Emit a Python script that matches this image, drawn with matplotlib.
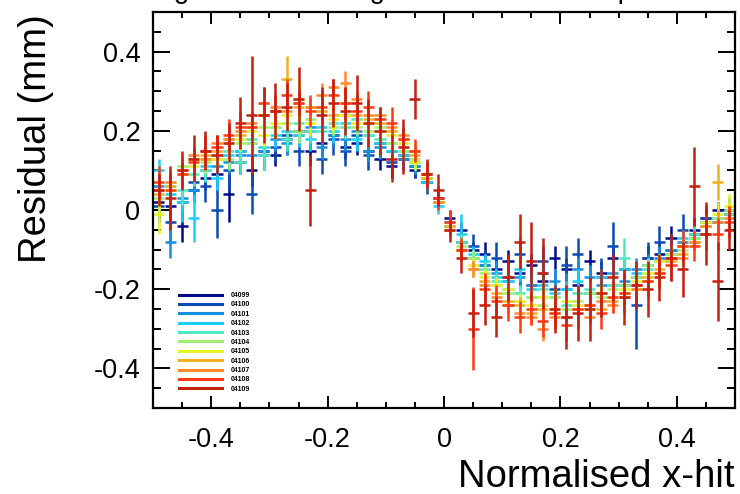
import numpy as np
import matplotlib
matplotlib.use('Agg')
import matplotlib.pyplot as plt
from matplotlib.lines import Line2D
from matplotlib.ticker import MultipleLocator

plt.rcParams['font.family'] = ['Liberation Sans', 'DejaVu Sans']

# bin centres of the normalised x-hit histogram (50 bins from -0.5 to 0.5)
xhit = np.arange(-0.49, 0.5, 0.02)
half_bin = 0.0095

runs = ['04099', '04100', '04101', '04102', '04103', '04104',
        '04105', '04106', '04107', '04108', '04109']
colours = ['#000a8c', '#0a4cb4', '#1890e0', '#18d0ff', '#50e8c0', '#a0f070',
           '#e4f420', '#f0b020', '#ff8a30', '#ff3a12', '#c4200e']

res_04099 = [0.02, 0.01, -0.04, 0.05, 0.08, 0.09, 0.04, 0.12, 0.10, 0.15, 0.14, 0.18, 0.20, 0.15, 0.17, 0.19, 0.16,
             0.17, 0.15, 0.13, 0.11, 0.13, 0.10, 0.07, 0.03, -0.02, -0.05, -0.10, -0.11, -0.15, -0.13, -0.16, -0.14,
             -0.18, -0.12, -0.15, -0.19, -0.13, -0.16, -0.12, -0.15, -0.17, -0.12, -0.11, -0.07, -0.09, -0.05, -0.02,
             0.00, -0.01]
err_04099 = [0.04, 0.03, 0.04, 0.03, 0.03, 0.03, 0.07, 0.03, 0.04, 0.03, 0.03, 0.03, 0.03, 0.04, 0.03, 0.03, 0.03,
             0.03, 0.03, 0.03, 0.03, 0.03, 0.02, 0.02, 0.02, 0.02, 0.02, 0.02, 0.03, 0.03, 0.03, 0.03, 0.03, 0.04,
             0.03, 0.03, 0.04, 0.03, 0.03, 0.03, 0.03, 0.04, 0.03, 0.03, 0.03, 0.03, 0.03, 0.02, 0.02, 0.02]

res_04100 = [0.01, -0.03, 0.02, 0.07, 0.06, 0.00, 0.10, 0.15, 0.04, 0.14, 0.16, 0.19, 0.15, 0.20, 0.13, 0.18, 0.15,
             0.19, 0.14, 0.17, 0.12, 0.14, 0.11, 0.07, 0.02, -0.04, -0.08, -0.09, -0.14, -0.12, -0.17, -0.11, -0.19,
             -0.13, -0.20, -0.14, -0.11, -0.21, -0.17, -0.09, -0.19, -0.24, -0.12, -0.08, -0.10, -0.05, -0.06, -0.02,
             -0.03, 0.00]
err_04100 = [0.04, 0.05, 0.04, 0.04, 0.04, 0.07, 0.05, 0.04, 0.05, 0.04, 0.04, 0.05, 0.04, 0.04, 0.04, 0.04, 0.04,
             0.04, 0.04, 0.04, 0.04, 0.03, 0.03, 0.03, 0.02, 0.02, 0.03, 0.03, 0.04, 0.04, 0.04, 0.04, 0.05, 0.04,
             0.05, 0.05, 0.04, 0.05, 0.05, 0.06, 0.05, 0.11, 0.04, 0.04, 0.04, 0.04, 0.04, 0.03, 0.03, 0.03]

res_04101 = [0.06, -0.08, 0.03, 0.05, 0.10, 0.11, 0.12, 0.14, 0.14, 0.15, 0.18, 0.17, 0.19, 0.21, 0.16, 0.19, 0.18,
             0.20, 0.15, 0.16, 0.15, 0.13, 0.11, 0.07, 0.02, -0.03, -0.08, -0.12, -0.14, -0.16, -0.18, -0.17, -0.19,
             -0.16, -0.18, -0.20, -0.15, -0.17, -0.19, -0.16, -0.18, -0.15, -0.14, -0.12, -0.10, -0.08, -0.06, -0.03,
             -0.02, 0.00]
err_04101 = [0.03, 0.04, 0.03, 0.03, 0.03, 0.04, 0.03, 0.03, 0.03, 0.03, 0.03, 0.03, 0.03, 0.03, 0.03, 0.03, 0.03,
             0.03, 0.03, 0.03, 0.03, 0.03, 0.02, 0.02, 0.02, 0.02, 0.02, 0.02, 0.03, 0.03, 0.03, 0.03, 0.03, 0.03,
             0.03, 0.04, 0.03, 0.03, 0.03, 0.03, 0.04, 0.03, 0.03, 0.03, 0.03, 0.03, 0.03, 0.02, 0.02, 0.03]

res_04102 = [0.10, 0.04, 0.02, -0.02, 0.11, 0.08, 0.14, 0.15, 0.17, 0.16, 0.19, 0.20, 0.19, 0.18, 0.21, 0.20, 0.22,
             0.18, 0.19, 0.17, 0.15, 0.14, 0.12, 0.07, 0.01, -0.04, -0.06, -0.11, -0.13, -0.17, -0.18, -0.15, -0.20,
             -0.19, -0.21, -0.20, -0.18, -0.21, -0.17, -0.19, -0.15, -0.16, -0.14, -0.13, -0.11, -0.07, -0.07, -0.04,
             -0.02, -0.01]
err_04102 = [0.03, 0.03, 0.05, 0.06, 0.03, 0.03, 0.03, 0.03, 0.03, 0.03, 0.03, 0.03, 0.03, 0.03, 0.03, 0.03, 0.03,
             0.03, 0.03, 0.02, 0.02, 0.02, 0.02, 0.02, 0.02, 0.02, 0.05, 0.02, 0.02, 0.02, 0.02, 0.03, 0.02, 0.02,
             0.02, 0.02, 0.03, 0.02, 0.02, 0.02, 0.03, 0.03, 0.02, 0.02, 0.02, 0.02, 0.02, 0.02, 0.02, 0.02]

res_04103 = [0.05, 0.06, 0.05, 0.09, 0.10, 0.13, 0.15, 0.12, 0.18, 0.14, 0.21, 0.18, 0.22, 0.20, 0.20, 0.22, 0.21,
             0.23, 0.19, 0.18, 0.17, 0.15, 0.12, 0.08, 0.02, -0.04, -0.08, -0.12, -0.15, -0.18, -0.20, -0.21, -0.22,
             -0.20, -0.22, -0.24, -0.21, -0.20, -0.21, -0.19, -0.12, -0.17, -0.15, -0.13, -0.11, -0.09, -0.06, -0.04,
             -0.02, -0.01]
err_04103 = [0.03, 0.03, 0.04, 0.03, 0.03, 0.03, 0.03, 0.03, 0.03, 0.04, 0.03, 0.03, 0.03, 0.03, 0.03, 0.03, 0.03,
             0.03, 0.03, 0.03, 0.03, 0.02, 0.02, 0.02, 0.02, 0.02, 0.02, 0.02, 0.02, 0.02, 0.02, 0.02, 0.02, 0.02,
             0.02, 0.02, 0.02, 0.02, 0.02, 0.02, 0.05, 0.02, 0.02, 0.02, 0.02, 0.02, 0.02, 0.02, 0.02, 0.02]

res_04104 = [0.03, 0.07, 0.11, 0.13, 0.12, 0.14, 0.13, 0.17, 0.17, 0.21, 0.21, 0.22, 0.20, 0.23, 0.25, 0.21, 0.24,
             0.21, 0.20, 0.21, 0.17, 0.15, 0.13, 0.08, 0.02, -0.05, -0.09, -0.12, -0.16, -0.19, -0.21, -0.23, -0.22,
             -0.24, -0.22, -0.25, -0.23, -0.21, -0.22, -0.20, -0.19, -0.17, -0.14, -0.13, -0.11, -0.10, -0.07, -0.04,
             -0.02, 0.00]
err_04104 = [0.03, 0.03, 0.03, 0.02, 0.03, 0.02, 0.03, 0.02, 0.03, 0.02, 0.03, 0.02, 0.03, 0.02, 0.03, 0.02, 0.03,
             0.02, 0.02, 0.02, 0.02, 0.02, 0.02, 0.02, 0.02, 0.02, 0.02, 0.02, 0.02, 0.02, 0.02, 0.02, 0.02, 0.02,
             0.02, 0.02, 0.02, 0.03, 0.02, 0.02, 0.02, 0.02, 0.02, 0.02, 0.02, 0.02, 0.02, 0.02, 0.02, 0.02]

res_04105 = [-0.01, 0.05, 0.09, 0.11, 0.13, 0.13, 0.17, 0.18, 0.20, 0.19, 0.22, 0.24, 0.28, 0.22, 0.25, 0.23, 0.24,
             0.22, 0.22, 0.20, 0.19, 0.17, 0.12, 0.08, 0.02, -0.04, -0.10, -0.14, -0.17, -0.19, -0.20, -0.23, -0.24,
             -0.22, -0.25, -0.23, -0.24, -0.25, -0.21, -0.22, -0.20, -0.18, -0.16, -0.13, -0.12, -0.09, -0.08, -0.03,
             -0.01, 0.01]
err_04105 = [0.05, 0.03, 0.03, 0.03, 0.03, 0.02, 0.03, 0.03, 0.03, 0.03, 0.03, 0.03, 0.05, 0.03, 0.03, 0.03, 0.03,
             0.02, 0.02, 0.02, 0.02, 0.02, 0.02, 0.02, 0.02, 0.02, 0.02, 0.02, 0.02, 0.02, 0.02, 0.02, 0.02, 0.02,
             0.02, 0.02, 0.02, 0.02, 0.02, 0.02, 0.02, 0.02, 0.02, 0.02, 0.02, 0.02, 0.02, 0.02, 0.03, 0.03]

res_04106 = [0.04, 0.06, 0.09, 0.13, 0.14, 0.15, 0.18, 0.19, 0.21, 0.24, 0.25, 0.33, 0.26, 0.26, 0.25, 0.24, 0.27,
             0.24, 0.23, 0.22, 0.20, 0.18, 0.14, 0.08, 0.02, -0.04, -0.10, -0.15, -0.18, -0.21, -0.23, -0.24, -0.26,
             -0.25, -0.26, -0.27, -0.25, -0.24, -0.25, -0.23, -0.21, -0.20, -0.17, -0.15, -0.13, -0.11, -0.08, -0.04,
             0.07, -0.02]
err_04106 = [0.03, 0.03, 0.03, 0.03, 0.02, 0.02, 0.03, 0.02, 0.02, 0.03, 0.02, 0.06, 0.02, 0.02, 0.02, 0.02, 0.02,
             0.02, 0.02, 0.02, 0.02, 0.02, 0.02, 0.02, 0.02, 0.02, 0.02, 0.02, 0.02, 0.02, 0.02, 0.02, 0.02, 0.02,
             0.02, 0.02, 0.02, 0.02, 0.02, 0.02, 0.02, 0.02, 0.02, 0.02, 0.02, 0.02, 0.02, 0.02, 0.045, 0.03]

res_04107 = [0.05, 0.07, 0.10, 0.14, 0.13, 0.17, 0.18, 0.20, 0.22, 0.24, 0.26, 0.25, 0.27, 0.26, 0.29, 0.31, 0.32,
             0.28, 0.24, 0.24, 0.21, 0.19, 0.15, 0.09, 0.02, -0.05, -0.10, -0.15, -0.19, -0.22, -0.24, -0.26, -0.27,
             -0.30, -0.27, -0.27, -0.25, -0.27, -0.23, -0.24, -0.22, -0.20, -0.18, -0.16, -0.12, -0.12, -0.08, -0.04,
             -0.03, -0.02]
err_04107 = [0.03, 0.03, 0.03, 0.02, 0.03, 0.02, 0.03, 0.02, 0.03, 0.02, 0.03, 0.02, 0.03, 0.02, 0.03, 0.02, 0.03,
             0.02, 0.03, 0.02, 0.02, 0.02, 0.02, 0.02, 0.02, 0.02, 0.02, 0.02, 0.02, 0.02, 0.02, 0.02, 0.02, 0.03,
             0.02, 0.02, 0.02, 0.02, 0.02, 0.02, 0.02, 0.02, 0.02, 0.02, 0.02, 0.02, 0.02, 0.02, 0.03, 0.03]

res_04108 = [0.07, 0.05, 0.09, 0.12, 0.15, 0.16, 0.19, 0.21, 0.21, 0.27, 0.25, 0.29, 0.27, 0.25, 0.26, 0.29, 0.27,
             0.25, 0.26, 0.23, 0.22, 0.18, 0.15, 0.09, 0.03, -0.03, -0.10, -0.30, -0.20, -0.23, -0.24, -0.27, -0.25,
             -0.28, -0.26, -0.29, -0.25, -0.24, -0.26, -0.22, -0.21, -0.19, -0.18, -0.16, -0.14, -0.09, -0.09, -0.06,
             -0.06, -0.03]
err_04108 = [0.04, 0.04, 0.03, 0.04, 0.04, 0.03, 0.04, 0.04, 0.03, 0.04, 0.04, 0.04, 0.03, 0.04, 0.04, 0.04, 0.04,
             0.04, 0.04, 0.03, 0.04, 0.03, 0.03, 0.03, 0.03, 0.03, 0.03, 0.105, 0.04, 0.04, 0.04, 0.04, 0.04, 0.04,
             0.04, 0.04, 0.05, 0.04, 0.04, 0.04, 0.05, 0.04, 0.04, 0.04, 0.04, 0.04, 0.04, 0.04, 0.04, 0.04]

res_04109 = [0.05, 0.03, 0.10, 0.13, 0.15, 0.14, 0.17, 0.22, 0.24, 0.24, 0.25, 0.26, 0.28, 0.05, 0.24, 0.27, 0.25,
             0.27, 0.22, 0.20, 0.13, 0.16, 0.28, 0.09, 0.05, -0.05, -0.12, -0.26, -0.24, -0.27, -0.17, -0.08, -0.13,
             -0.16, -0.25, -0.27, -0.26, -0.25, -0.21, -0.17, -0.22, -0.19, -0.20, -0.17, -0.12, -0.15, 0.06, -0.06,
             -0.18, -0.05]
err_04109 = [0.04, 0.08, 0.05, 0.06, 0.05, 0.05, 0.05, 0.065, 0.15, 0.07, 0.07, 0.06, 0.08, 0.09, 0.07, 0.06, 0.06,
             0.07, 0.06, 0.06, 0.06, 0.07, 0.05, 0.04, 0.04, 0.03, 0.04, 0.06, 0.05, 0.05, 0.06, 0.07, 0.10, 0.09,
             0.06, 0.08, 0.07, 0.08, 0.06, 0.06, 0.07, 0.06, 0.07, 0.06, 0.06, 0.07, 0.10, 0.08, 0.10, 0.05]

residuals = [res_04099, res_04100, res_04101, res_04102, res_04103, res_04104,
             res_04105, res_04106, res_04107, res_04108, res_04109]
errors = [err_04099, err_04100, err_04101, err_04102, err_04103, err_04104,
          err_04105, err_04106, err_04107, err_04108, err_04109]

fig = plt.figure(figsize=(7.4, 4.94), dpi=100)
ax = fig.add_axes([153/740, 1 - 408/494, 582/740, 396/494])

for res, err, col in zip(residuals, errors, colours):
    ax.errorbar(xhit, res, yerr=err, xerr=half_bin, fmt='none',
                ecolor=col, elinewidth=1.8, capsize=0)

ax.set_xlim(-0.5, 0.5)
ax.set_ylim(-0.5, 0.5)

ax.xaxis.set_minor_locator(MultipleLocator(0.05))
ax.yaxis.set_minor_locator(MultipleLocator(0.05))
ax.set_xticks([-0.4, -0.2, 0, 0.2, 0.4], ['-0.4', '-0.2', '0', '0.2', '0.4'])
ax.set_yticks([-0.4, -0.2, 0, 0.2, 0.4], ['-0.4', '-0.2', '0', '0.2', '0.4'])

ax.tick_params(axis='both', which='both', direction='in', top=True, right=True,
               width=1.4, labelsize=19.5)
ax.tick_params(axis='x', which='major', length=8.6, pad=14)
ax.tick_params(axis='x', which='minor', length=4.3)
ax.tick_params(axis='y', which='major', length=12, pad=9)
ax.tick_params(axis='y', which='minor', length=6)
for s in ax.spines.values():
    s.set_linewidth(1.6)

fig.text(735/740, 1 - 487/494, 'Normalised x-hit', fontsize=27.5,
         ha='right', va='baseline')
fig.text(36/740, 1 - 14/494, 'Residual (mm)', fontsize=27.5,
         rotation=90, ha='center', va='top')
fig.text(102/740, 1 + 1.5/494, 'Average hit residual against normalised x-position',
         fontsize=20, ha='left', va='baseline')

handles = [Line2D([], [], color=c, lw=2.2) for c in colours]
ax.legend(handles, runs, loc='upper left', bbox_to_anchor=(0.037, 0.305),
          frameon=False, prop={'size': 5, 'weight': 'bold'},
          handlelength=6.2, handletextpad=1.2, labelspacing=0.34,
          borderpad=0.2)

fig.savefig('out.png', dpi=100)
